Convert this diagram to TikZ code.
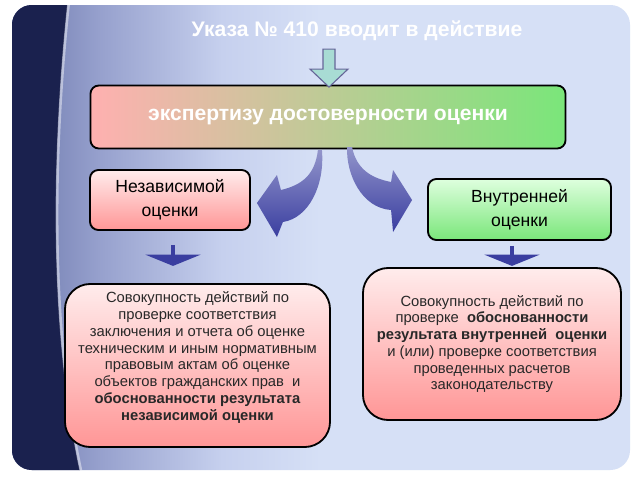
\documentclass[tikz,border=0pt]{standalone}
\usepackage{fontspec}
\setmainfont{Liberation Sans}
\usetikzlibrary{calc}
\usetikzlibrary{arrows.meta}

\definecolor{bgnavy}{RGB}{26,33,78}
\definecolor{bgdeep}{RGB}{108,120,172}
\definecolor{bgmid}{RGB}{150,160,205}
\definecolor{bgpale}{RGB}{198,208,238}
\definecolor{bglight}{RGB}{214,224,246}
\definecolor{pinkhi}{RGB}{255,236,236}
\definecolor{pinklo}{RGB}{255,150,150}
\definecolor{greenhi}{RGB}{222,255,222}
\definecolor{greenlo}{RGB}{122,230,122}
\definecolor{arrowblue}{RGB}{58,62,160}
\definecolor{arrowteal}{RGB}{168,220,212}
\definecolor{textgray}{RGB}{40,40,40}
\pgfdeclarehorizontalshading{bgshade}{100bp}{color(0bp)=(bgdeep); color(25bp)=(bgdeep); color(32bp)=(bgmid); color(42bp)=(bgpale); color(50bp)=(bglight); color(100bp)=(bglight)}

\begin{document}
\begin{tikzpicture}
    [
    x=0.025cm,y=-0.025cm,
    box/.style={draw=black,line width=1.3pt,rounded corners=6pt,align=center,inner sep=0pt},
    smallbox/.style={box,text=black,font=\fontsize{12.5}{17}\selectfont},
    pinkbox/.style={smallbox,top color=pinkhi,bottom color=pinklo},
    greenbox/.style={smallbox,top color=greenhi,bottom color=greenlo},
    bigbox/.style={box,rounded corners=18pt,top color=pinkhi,bottom color=pinklo,text=textgray,font=\fontsize{10.5}{11.9}\selectfont},
    mainbox/.style={box,left color=pinklo!75!white,middle color=white,right color=greenlo,text=white,font=\fontsize{15}{18}\bfseries},
    headline/.style={text=white,font=\fontsize{15}{18}\bfseries},
    curved/.style={top color=arrowblue!55!white,bottom color=arrowblue},
    downarrow/.style={draw=arrowblue,line width=3.5pt,-{Triangle[width=39pt,length=8pt]}},
    hollowarrow/.style={fill=arrowteal,draw=gray!80!blue,line width=0.8pt}
    ]
    \useasboundingbox (0,0) rectangle (640,480);
    % background
    \fill[white] (0,0) rectangle (640,480);
    \shade[shading=bgshade,rounded corners=14pt] (12,5) rectangle (630,470);
    \begin{scope}
      \clip[rounded corners=14pt] (12,5) rectangle (630,470);
      \fill[bgnavy] (0,0) -- (68,0) .. controls (52,150) and (48,330) .. (82,480) -- (0,480) -- cycle;
      \draw[white,opacity=0.45,line width=2pt] (69,0) .. controls (53,150) and (49,330) .. (83,480);
    \end{scope}

    \node (title) at (357,31) [headline] {Указа № 410 вводит в действие};
    \node (main) at (328,117) [mainbox,minimum width=11.875cm,minimum height=1.575cm] {экспертизу достоверности оценки};
    \node (indep) at (170,200) [pinkbox,minimum width=4cm,minimum height=1.5cm] {Независимой\\оценки};
    \node (inner) at (519.5,209.5) [greenbox,minimum width=4.575cm,minimum height=1.525cm] {Внутренней\\оценки};
    \node (descA) at (197.5,365.5) [bigbox,minimum width=6.625cm,minimum height=4.075cm]
      {Совокупность действий по\\
       проверке соответствия\\
       заключения и отчета об оценке\\
       техническим и иным нормативным\\
       правовым актам об оценке\\
       объектов гражданских прав~ и\\
       \textbf{обоснованности результата}\\
       \textbf{независимой оценки}\rule[-13.5pt]{0pt}{13.5pt}};
    \node (descB) at (492,344) [bigbox,minimum width=6.45cm,minimum height=3.8cm]
      {Совокупность действий по\\
       проверке~ \textbf{обоснованности}\\
       \textbf{результата внутренней~ оценки}\\
       и (или) проверке соответствия\\
       проведенных расчетов\\
       законодательству};

    % arrow from the title into the main box
    \begin{scope}[shift={(main.north)}]
      \filldraw[hollowarrow] (-5,-35.5) -- (7,-35.5) -- (7,-15.5) -- (20,-15.5) -- (1,2.5) -- (-18,-15.5) -- (-5,-15.5) -- cycle;
    \end{scope}

    % curved arrows
    \coordinate (ltip) at ($(indep.east)+(6,3)$);
    \coordinate (rtip) at ($(inner.west)+(-15,-9.5)$);
    \begin{scope}[shift={(ltip)}]
      \shade[curved] (0,0) -- (20,-28) -- (24,-13) .. controls (45,-18) and (58,-28) .. (61,-53)
        -- (65,-53) .. controls (68,-18) and (52,15) .. (26,19) -- (20,34) -- cycle;
    \end{scope}
    \begin{scope}[shift={(rtip)}]
      \shade[curved] (0,0) -- (-19,-30) -- (-21,-18) .. controls (-42,-22) and (-56,-32) .. (-60,-53)
        -- (-65,-53) .. controls (-66,-25) and (-50,8) .. (-21,10) -- (-19,32) -- cycle;
    \end{scope}

    % short arrows down to the descriptions
    \coordinate (ldown) at ($(indep.south)+(3,14)$);
    \coordinate (rdown) at ($(inner.south)+(-7.5,5)$);
    \draw[downarrow] (ldown) -- ++(0,21);
    \draw[downarrow] (rdown) -- ++(0,20);
\end{tikzpicture}
\end{document}
